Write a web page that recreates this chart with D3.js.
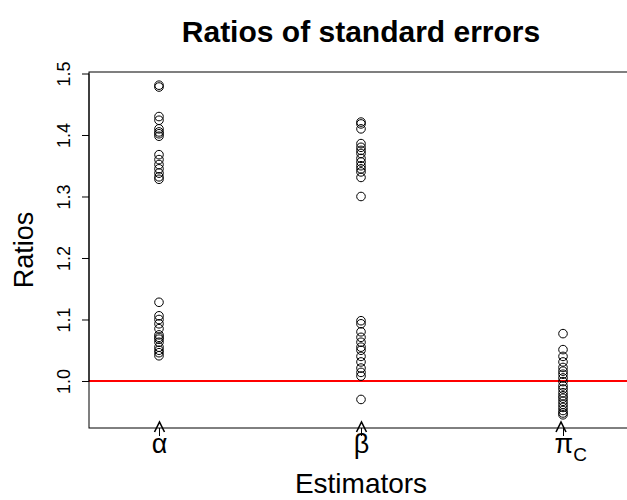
<!DOCTYPE html>
<html>
<head>
<meta charset="utf-8">
<script src="https://cdn.jsdelivr.net/npm/d3@7"></script>
<style>
  body { margin: 0; background: #fff; }
  svg { display: block; font-family: "Liberation Sans", Arial, sans-serif; }
</style>
</head>
<body>
<div id="chart"></div>
<script>
// estimators (x positions 1..3) and the ratios
const estimators = ['alpha', 'beta', 'pi'];
const alphaRatios = [1.481, 1.478, 1.430, 1.424, 1.410, 1.405, 1.402, 1.398, 1.368, 1.360,
  1.352, 1.345, 1.338, 1.332, 1.328, 1.128, 1.106, 1.100, 1.093, 1.085, 1.075, 1.071,
  1.068, 1.063, 1.055, 1.050, 1.046, 1.041];
const betaRatios = [1.421, 1.418, 1.410, 1.386, 1.380, 1.375, 1.370, 1.362, 1.356, 1.350,
  1.345, 1.340, 1.331, 1.300, 1.098, 1.093, 1.080, 1.071, 1.063, 1.055, 1.050, 1.040,
  1.031, 1.021, 1.014, 1.008, 0.970];
const piRatios = [1.077, 1.051, 1.040, 1.031, 1.022, 1.016, 1.011, 1.005, 0.999, 0.992,
  0.987, 0.981, 0.976, 0.972, 0.967, 0.962, 0.957, 0.952, 0.948, 0.945];
const yTicks = [1.0, 1.1, 1.2, 1.3, 1.4, 1.5];
const refLine = 1;

const width = 627, height = 500;
const margin = { left: 89, right: -6, top: 72, bottom: 72 };

const svg = d3.select('#chart')
  .append('svg')
  .attr('width', width)
  .attr('height', height);

const series = [alphaRatios, betaRatios, piRatios];
const points = [];
series.forEach((vals, i) => vals.forEach(v => points.push({ pos: i + 1, value: v })));

// x axis like R's stripchart with a tight xlim
const x = d3.scaleLinear()
  .domain([0.6535, 3.3465])
  .range([margin.left, width - margin.right]);

// y range extended 4% like R
const ext = d3.extent(points, d => d.value);
const pad = (ext[1] - ext[0]) * 0.04;
const y = d3.scaleLinear()
  .domain([ext[0] - pad, ext[1] + pad])
  .range([height - margin.bottom, margin.top]);

const plotW = width - margin.right - margin.left;
const plotH = height - margin.bottom - margin.top;

// clip for plot region
svg.append('clipPath').attr('id', 'plotclip')
  .append('rect')
  .attr('x', margin.left).attr('y', margin.top)
  .attr('width', plotW).attr('height', plotH);

// reference line
svg.append('line')
  .attr('clip-path', 'url(#plotclip)')
  .attr('x1', margin.left).attr('x2', width - margin.right)
  .attr('y1', y(refLine)).attr('y2', y(refLine))
  .attr('stroke', '#ff0000')
  .attr('stroke-width', 2);

// points
svg.append('g')
  .selectAll('circle')
  .data(points)
  .join('circle')
  .attr('cx', d => x(d.pos))
  .attr('cy', d => y(d.value))
  .attr('r', 4.3)
  .attr('fill', 'none')
  .attr('stroke', '#000')
  .attr('stroke-width', 1);

// box
svg.append('rect')
  .attr('x', margin.left).attr('y', margin.top)
  .attr('width', plotW).attr('height', plotH)
  .attr('fill', 'none')
  .attr('stroke', '#000')
  .attr('stroke-width', 1);

// y axis
const yAxisGroup = svg.append('g')
  .attr('transform', `translate(${margin.left}, 0)`)
  .call(d3.axisLeft(y).tickValues(yTicks).tickSize(7).tickFormat(d3.format('.1f')));
yAxisGroup.select('.domain')
  .attr('d', `M0,${y(yTicks[0])}V${y(yTicks[yTicks.length - 1])}`);
yAxisGroup.selectAll('.tick text')
  .attr('transform', 'rotate(-90)')
  .attr('x', 0)
  .attr('y', -19)
  .attr('dy', 0)
  .attr('text-anchor', 'middle')
  .attr('font-size', 18)
  .attr('font-family', '"Liberation Sans", Arial, sans-serif')
  .attr('fill', '#000');

// x axis (ticks only, labels are math glyphs)
const xAxisGroup = svg.append('g')
  .attr('transform', `translate(0, ${height - margin.bottom})`)
  .call(d3.axisBottom(x).tickValues([1, 2, 3]).tickSize(8).tickFormat(''));
xAxisGroup.select('.domain').remove();

const labels = xAxisGroup.selectAll('.tick')
  .data(estimators)
  .append('g');

const glyphs = labels.append('text')
  .attr('x', d => d === 'pi' ? -9 : 0)
  .attr('y', 25)
  .attr('text-anchor', d => d === 'pi' ? 'start' : 'middle')
  .attr('font-size', 27)
  .attr('fill', '#000')
  .style('font-family', '"Liberation Sans", Arial, sans-serif');

glyphs.append('tspan')
  .text(d => ({ alpha: 'α', beta: 'β', pi: 'π' })[d]);

// subscript C on pi
glyphs.filter(d => d === 'pi')
  .append('tspan')
  .attr('dy', 8)
  .attr('font-size', 19)
  .text('C');

// hats
labels.append('path')
  .attr('d', d => {
    const cx = d === 'pi' ? -2.5 : 0;
    return `M${cx - 5},4L${cx},-6L${cx + 5},4`;
  })
  .attr('fill', 'none')
  .attr('stroke', '#000')
  .attr('stroke-width', 1.6);

// axis titles
svg.append('text')
  .attr('x', margin.left + plotW / 2)
  .attr('y', 493)
  .attr('text-anchor', 'middle')
  .attr('font-size', 28)
  .text('Estimators');

svg.append('text')
  .attr('transform', `translate(33, ${margin.top + plotH / 2}) rotate(-90)`)
  .attr('text-anchor', 'middle')
  .attr('font-size', 27)
  .text('Ratios');

// title
svg.append('text')
  .attr('x', margin.left + plotW / 2)
  .attr('y', 42)
  .attr('text-anchor', 'middle')
  .attr('font-size', 30)
  .attr('font-weight', 'bold')
  .text('Ratios of standard errors');
</script>
</body>
</html>
